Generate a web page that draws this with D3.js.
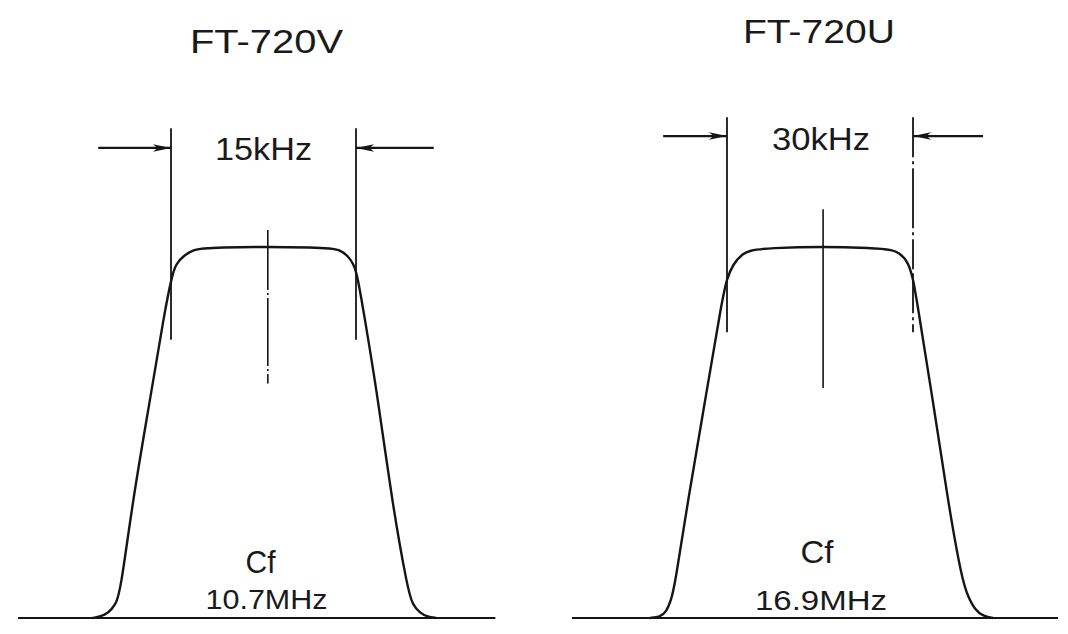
<!DOCTYPE html>
<html>
<head>
<meta charset="utf-8">
<script src="https://cdn.jsdelivr.net/npm/d3@7"></script>
<style>
  html, body { margin: 0; padding: 0; background: #fff; }
  svg { display: block; }
  text { font-family: "Liberation Sans", Arial, sans-serif; fill: #1a1a1a; }
</style>
</head>
<body>
<svg id="chart" width="1068" height="634"></svg>
<script>
// ---- data (frequency offset in kHz from centre, relative level 0..100 = passband top) ----
const panelTitles = ["FT-720V", "FT-720U"];
const bandwidthLabels = ["15kHz", "30kHz"];
const cfLabels = ["Cf", "Cf"];
const centerFreqLabels = ["10.7MHz", "16.9MHz"];
const bandwidthKHz = [15, 30];

const freqV  = [-13.9, -13.3, -12.6, -12.0, -11.6, -10.6, -9.2, -8.0, -7.4, -7.1, -6.5, -5.7, -4.7,
                 5.2, 6.2, 6.85, 7.3, 7.6, 8.1, 9.3, 10.4, 11.7, 12.1, 12.7, 13.3, 14.0];
const levelV = [0, 0.3, 1.3, 3.5, 7.0, 31.8, 58.8, 83.0, 92.5, 95.4, 97.6, 99.2, 100,
                100, 99.2, 97.6, 95.4, 92.5, 83.0, 58.8, 31.8, 7.5, 3.5, 1.3, 0.3, 0];

const freqU  = [-27.4, -25.8, -24.8, -24.0, -23.4, -21.3, -18.5, -15.8, -15.0, -14.0, -12.6, -10.5,
                 10.8, 12.9, 14.2, 15.0, 15.6, 18.2, 20.6, 22.9, 23.9, 25.0, 26.3, 27.9];
const levelU = [0, 0.3, 1.6, 4.9, 8.9, 31.8, 58.8, 85.7, 91.6, 95.4, 98.1, 100,
                100, 98.4, 96.0, 91.6, 85.7, 58.8, 31.8, 10.2, 5.7, 2.2, 0.5, 0];

const baselineV = [-19.9, 18.8];        // kHz extent of the zero line
const baselineU = [-40.0, 38.4];
const markerLevelsV = [132, 75];        // band-edge marker top / bottom level
const markerLevelsU = [135, 77];
const arrowLevel = [126.7, 129.9];
const arrowOuterV = [-13.4, 13.8];      // tail ends of the dimension arrows
const arrowOuterU = [-25.3, 26.3];
const centerMarkV = { f: 0.35, levels: [104.6, 63.2] };
const centerMarkU = { f: 0.5,  levels: [110.2, 62.0] };

// ---- drawing ----
const svg = d3.select("#chart");
const ink = "#151515";

svg.append("defs").append("marker")
  .attr("id", "ah").attr("viewBox", "0 0 20 10")
  .attr("refX", 20).attr("refY", 5)
  .attr("markerUnits", "userSpaceOnUse")
  .attr("markerWidth", 18).attr("markerHeight", 10)
  .attr("orient", "auto")
  .append("path").attr("d", "M0,0.8 L20,5 L0,9.2 L5,5 Z").attr("fill", ink);

const y = d3.scaleLinear().domain([0, 100]).range([618, 247]);

const panels = [
  { title: panelTitles[0], bw: bandwidthKHz[0], bwLabel: bandwidthLabels[0], cf: cfLabels[0], cfLabel: centerFreqLabels[0],
    x: d3.scaleLinear().domain([-bandwidthKHz[0] / 2, bandwidthKHz[0] / 2]).range([171, 356]),
    freq: freqV, level: levelV, base: baselineV, mk: markerLevelsV, ar: arrowLevel[0], arOuter: arrowOuterV,
    cm: centerMarkV, cmDash: "60,3,2,3,68,3,2,3",
    titleY: 53, titleW: 153, bwY: 160, bwW: 97, cfY: 573, cfW: 30, mhzY: 609, mhzW: 122, rightDash: null,
    titleDx: 3, bwDx: 0, cfDx: -3, mhzDx: 3 },
  { title: panelTitles[1], bw: bandwidthKHz[1], bwLabel: bandwidthLabels[1], cf: cfLabels[1], cfLabel: centerFreqLabels[1],
    x: d3.scaleLinear().domain([-bandwidthKHz[1] / 2, bandwidthKHz[1] / 2]).range([727, 913]),
    freq: freqU, level: levelU, base: baselineU, mk: markerLevelsU, ar: arrowLevel[1], arOuter: arrowOuterU,
    cm: centerMarkU, cmDash: null,
    titleY: 43, titleW: 152, bwY: 150, bwW: 98, cfY: 563, cfW: 33, mhzY: 610, mhzW: 132, rightDash: "40,4,3,4,60,4,3,4,30,4",
    titleDx: -1, bwDx: 1, cfDx: -3, mhzDx: 1 }
];

panels.forEach(p => {
  const g = svg.append("g");
  const x = p.x;
  const half = p.bw / 2;

  // zero-level baseline
  g.append("line")
    .attr("x1", x(p.base[0])).attr("x2", x(p.base[1]))
    .attr("y1", y(0)).attr("y2", y(0))
    .attr("stroke", ink).attr("stroke-width", 2);

  // passband response curve
  const pts = p.freq.map((f, i) => [f, p.level[i]]);
  g.append("path")
    .datum(pts)
    .attr("fill", "none").attr("stroke", ink).attr("stroke-width", 2.4)
    .attr("stroke-linejoin", "round")
    .attr("d", d3.line().x(d => x(d[0])).y(d => y(d[1])).curve(d3.curveBasis));

  // band edge markers
  [-half, half].forEach((f, i) => {
    g.append("line")
      .attr("x1", x(f)).attr("x2", x(f))
      .attr("y1", y(p.mk[0])).attr("y2", y(p.mk[1]))
      .attr("stroke", ink).attr("stroke-width", 1.8)
      .attr("stroke-dasharray", i === 1 && p.rightDash ? p.rightDash : null);
  });

  // dimension arrows
  [[p.arOuter[0], -half], [p.arOuter[1], half]].forEach(([a, b]) => {
    g.append("line")
      .attr("x1", x(a)).attr("x2", x(b))
      .attr("y1", y(p.ar)).attr("y2", y(p.ar))
      .attr("stroke", ink).attr("stroke-width", 2.2)
      .attr("marker-end", "url(#ah)");
  });

  // centre-frequency mark
  g.append("line")
    .attr("x1", x(p.cm.f)).attr("x2", x(p.cm.f))
    .attr("y1", y(p.cm.levels[0])).attr("y2", y(p.cm.levels[1]))
    .attr("stroke", ink).attr("stroke-width", 1.6)
    .attr("stroke-dasharray", p.cmDash);

  // texts
  const cx = x(0);
  g.append("text").text(p.title)
    .attr("x", cx + p.titleDx).attr("y", p.titleY)
    .attr("text-anchor", "middle").attr("font-size", 33)
    .attr("textLength", p.titleW).attr("lengthAdjust", "spacingAndGlyphs");
  g.append("text").text(p.bwLabel)
    .attr("x", cx + p.bwDx).attr("y", p.bwY)
    .attr("text-anchor", "middle").attr("font-size", 31)
    .attr("textLength", p.bwW).attr("lengthAdjust", "spacingAndGlyphs");
  g.append("text").text(p.cf)
    .attr("x", cx + p.cfDx).attr("y", p.cfY)
    .attr("text-anchor", "middle").attr("font-size", 31)
    .attr("textLength", p.cfW).attr("lengthAdjust", "spacingAndGlyphs");
  g.append("text").text(p.cfLabel)
    .attr("x", cx + p.mhzDx).attr("y", p.mhzY)
    .attr("text-anchor", "middle").attr("font-size", 28)
    .attr("textLength", p.mhzW).attr("lengthAdjust", "spacingAndGlyphs");
});
</script>
</body>
</html>
